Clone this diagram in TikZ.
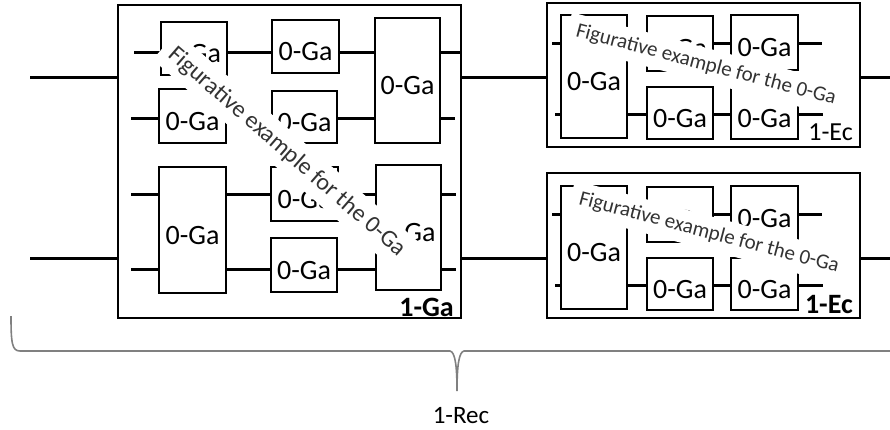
\documentclass[tikz,border=0pt]{standalone}
\usepackage{fontspec}
\setmainfont{Carlito}
\begin{document}
\begin{tikzpicture}[x=1pt,y=-1pt,
  gbox/.style={draw, line width=2pt, inner sep=0pt, font=\fontsize{28}{30}\selectfont, text height=28pt, text depth=0pt},
  frame/.style={draw, line width=2.2pt, inner sep=0pt},
  wire/.style={line width=3pt},
  note/.style={fill=white, text=black!80},
  tag/.style={inner sep=0pt, font=\fontsize{26}{28}\selectfont},
  tagbold/.style={inner sep=0pt, font=\bfseries\fontsize{28}{30}\selectfont},
  bracecol/.style={draw=black!50, line width=1.6pt}]
\useasboundingbox (0,0) rectangle (890,429);

% ---------- 1-Ga ----------
\node[frame, minimum width=343pt, minimum height=313pt] (G1) at (289.5,161.5) {};
\node[gbox, minimum width=66pt, minimum height=53pt] (A) at (194,48.5) {0-Ga};
\node[gbox, minimum width=67pt, minimum height=53pt] (C) at (305.5,46.5) {0-Ga};
\node[gbox, minimum width=65pt, minimum height=125pt] (D) at (407.5,80.5) {0-Ga};
\node[gbox, minimum width=67pt, minimum height=54pt] (B) at (192.5,116) {0-Ga};
\node[gbox, minimum width=65pt, minimum height=52pt] (E) at (304.5,117) {0-Ga};
\node[gbox, minimum width=67pt, minimum height=126pt] (F) at (192.5,230) {0-Ga};
\node[gbox, minimum width=67pt, minimum height=54pt] (G) at (304.5,194) {0-Ga};
\node[gbox, minimum width=66pt, minimum height=54pt] (I) at (304,265) {0-Ga};
\node[gbox, minimum width=65pt, minimum height=125pt] (H) at (408.5,227.5) {0-Ga};

\coordinate (r1) at (134,52);
\coordinate (r2) at (131,118);
\coordinate (r3) at (131,194);
\coordinate (r4) at (131,269);
\coordinate (o1) at (460,52);
\coordinate (o2) at (455,118);
\coordinate (o3) at (456,194);
\coordinate (o4) at (456,269);

\draw[wire] (r1) -- (A.west |- r1);
\draw[wire] (A.east |- r1) -- (C.west |- r1);
\draw[wire] (C.east |- r1) -- (D.west |- r1);
\draw[wire] (D.east |- r1) -- (o1);
\draw[wire] (r2) -- (B.west |- r2);
\draw[wire] (B.east |- r2) -- (E.west |- r2);
\draw[wire] (E.east |- r2) -- (D.west |- r2);
\draw[wire] (D.east |- r2) -- (o2);
\draw[wire] (r3) -- (F.west |- r3);
\draw[wire] (F.east |- r3) -- (G.west |- r3);
\draw[wire] (G.east |- r3) -- (H.west |- r3);
\draw[wire] (H.east |- r3) -- (o3);
\draw[wire] (r4) -- (F.west |- r4);
\draw[wire] (F.east |- r4) -- (I.west |- r4);
\draw[wire] (I.east |- r4) -- (H.west |- r4);
\draw[wire] (H.east |- r4) -- (o4);

% ---------- 1-Ec (top) ----------
\node[frame, minimum width=313pt, minimum height=144pt] (R1) at (703.5,75) {};
\node[gbox, minimum width=66pt, minimum height=123pt] (J) at (594,76.5) {0-Ga};
\node[gbox, minimum width=66pt, minimum height=55pt] (K) at (680,43.5) {0-Ga};
\node[gbox, minimum width=67pt, minimum height=55pt] (L) at (764.5,42.5) {0-Ga};
\node[gbox, minimum width=66pt, minimum height=52pt] (M) at (680,113) {0-Ga};
\node[gbox, minimum width=67pt, minimum height=52pt] (N) at (764.5,113) {0-Ga};
\coordinate (ia) at (552,43);
\coordinate (ib) at (555,114);
\coordinate (oa) at (822,43);
\coordinate (ob) at (823,114);
\draw[wire] (ia) -- (J.west |- ia);
\draw[wire] (J.east |- ia) -- (K.west |- ia);
\draw[wire] (K.east |- ia) -- (L.west |- ia);
\draw[wire] (L.east |- ia) -- (oa);
\draw[wire] (ib) -- (J.west |- ib);
\draw[wire] (J.east |- ib) -- (M.west |- ib);
\draw[wire] (M.east |- ib) -- (N.west |- ib);
\draw[wire] (N.east |- ib) -- (ob);

% ---------- 1-Ec (bottom) ----------
\node[frame, minimum width=313pt, minimum height=145pt] (R2) at (703.5,245.5) {};
\node[gbox, minimum width=66pt, minimum height=123pt] (J2) at (594,247.5) {0-Ga};
\node[gbox, minimum width=66pt, minimum height=55pt] (K2) at (680,214.5) {0-Ga};
\node[gbox, minimum width=67pt, minimum height=55pt] (L2) at (764.5,213.5) {0-Ga};
\node[gbox, minimum width=66pt, minimum height=52pt] (M2) at (680,284) {0-Ga};
\node[gbox, minimum width=67pt, minimum height=52pt] (N2) at (764.5,284) {0-Ga};
\coordinate (ja) at (552,214);
\coordinate (jb) at (555,285);
\coordinate (pa) at (822,214);
\coordinate (pb) at (823,285);
\draw[wire] (ja) -- (J2.west |- ja);
\draw[wire] (J2.east |- ja) -- (K2.west |- ja);
\draw[wire] (K2.east |- ja) -- (L2.west |- ja);
\draw[wire] (L2.east |- ja) -- (pa);
\draw[wire] (jb) -- (J2.west |- jb);
\draw[wire] (J2.east |- jb) -- (M2.west |- jb);
\draw[wire] (M2.east |- jb) -- (N2.west |- jb);
\draw[wire] (N2.east |- jb) -- (pb);

% ---------- external lines ----------
\coordinate (in1) at (30,77);
\coordinate (in2) at (30,258);
\coordinate (out1) at (890,77);
\coordinate (out2) at (890,258);
\draw[wire] (in1) -- (G1.west |- in1);
\draw[wire] (G1.east |- in1) -- (R1.west |- in1);
\draw[wire] (R1.east |- in1) -- (out1);
\draw[wire] (in2) -- (G1.west |- in2);
\draw[wire] (G1.east |- in2) -- (R2.west |- in2);
\draw[wire] (R2.east |- in2) -- (out2);

% ---------- overlay notes ----------
\node[note, rotate=-41, inner xsep=9pt, inner ysep=8pt, font=\fontsize{24}{26}\selectfont] (n1) at (287,152) {Figurative example for the 0-Ga};
\node[note, rotate=-14.8, inner xsep=9pt, inner ysep=7.5pt, font=\fontsize{21}{23}\selectfont] (n2) at (706,65) {Figurative example for the 0-Ga};
\node[note, rotate=-14.8, inner xsep=9pt, inner ysep=7.5pt, font=\fontsize{21}{23}\selectfont] (n3) at (709,233) {Figurative example for the 0-Ga};

% ---------- tags ----------
\node[tagbold, anchor=base east] (t1) at (454,316) {1-Ga};
\node[tag, anchor=base east] (t2) at (853,140) {1-Ec};
\node[tagbold, anchor=base east] (t3) at (853,313) {1-Ec};

% ---------- brace ----------
\draw[bracecol] (11,316) .. controls (11,343) and (12,351) .. (20,351) -- (450,351)
  .. controls (455,352) and (457,365) .. (457,391)
  .. controls (457,365) and (459,352) .. (464,351) -- (890,351);
\node[inner sep=0pt, font=\fontsize{25}{27}\selectfont, anchor=base] (rec) at (461,423) {1-Rec};
\end{tikzpicture}
\end{document}
